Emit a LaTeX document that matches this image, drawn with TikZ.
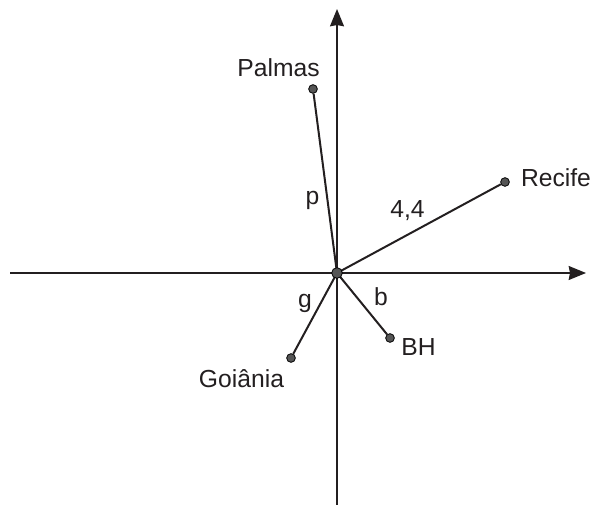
\documentclass[tikz,border=0pt]{standalone}
\usepackage{fontspec}
\setmainfont{Liberation Sans}
\usepackage{tikz}
\usetikzlibrary{arrows.meta,positioning}
\definecolor{dotgray}{HTML}{555555}
\definecolor{ink}{HTML}{231F20}

\begin{document}
\begin{tikzpicture}[x=0.75pt, y=-0.75pt,
  pt/.style={circle, draw=black, fill=dotgray, line width=0.6pt, inner sep=0pt, minimum size=6.5pt},
  ctr/.style={pt, minimum size=8pt},
  lbl/.style={font=\fontsize{18.5}{22}\selectfont, text=ink, inner sep=0pt},
  axis/.style={-{Stealth[length=13pt, width=10.5pt, inset=1pt]}, line width=1.1pt, ink},
  seg/.style={line width=1.5pt, ink}]
  \useasboundingbox (0,0) rectangle (595,505);
  % axes
  \coordinate (xl) at (10,273);
  \coordinate (xr) at (586,273);
  \coordinate (yb) at (337,505);
  \coordinate (yt) at (337,9);
  \draw[axis] (xl) -- (xr);
  \draw[axis] (yb) -- (yt);
  % cities
  \node[pt] (palmas) at (313,89) {};
  \node[pt] (recife) at (505,182) {};
  \node[pt] (bh) at (390,338) {};
  \node[pt] (goiania) at (291,358) {};
  \node[lbl] (lpalmas) at (278.5,67.5) {Palmas};
  \node[lbl] (lrecife) at (556,177.5) {Recife};
  \node[lbl] (lbh) at (418.5,347) {BH};
  \node[lbl] (lgoiania) at (241.5,379) {Goiânia};
  % segments from the origin
  \draw[seg] (337,273) coordinate (o) -- (palmas);
  \draw[seg] (o) -- (recife);
  \draw[seg] (o) -- (bh);
  \draw[seg] (o) -- (goiania);
  \node[ctr] (origin) at (o) {};
  \node[lbl] (lp) at (312.5,200) {p};
  \node[lbl] (lr) at (407.5,211) {4,4};
  \node[lbl] (lg) at (305,303) {g};
  \node[lbl] (lb) at (381,297) {b};
\end{tikzpicture}
\end{document}
